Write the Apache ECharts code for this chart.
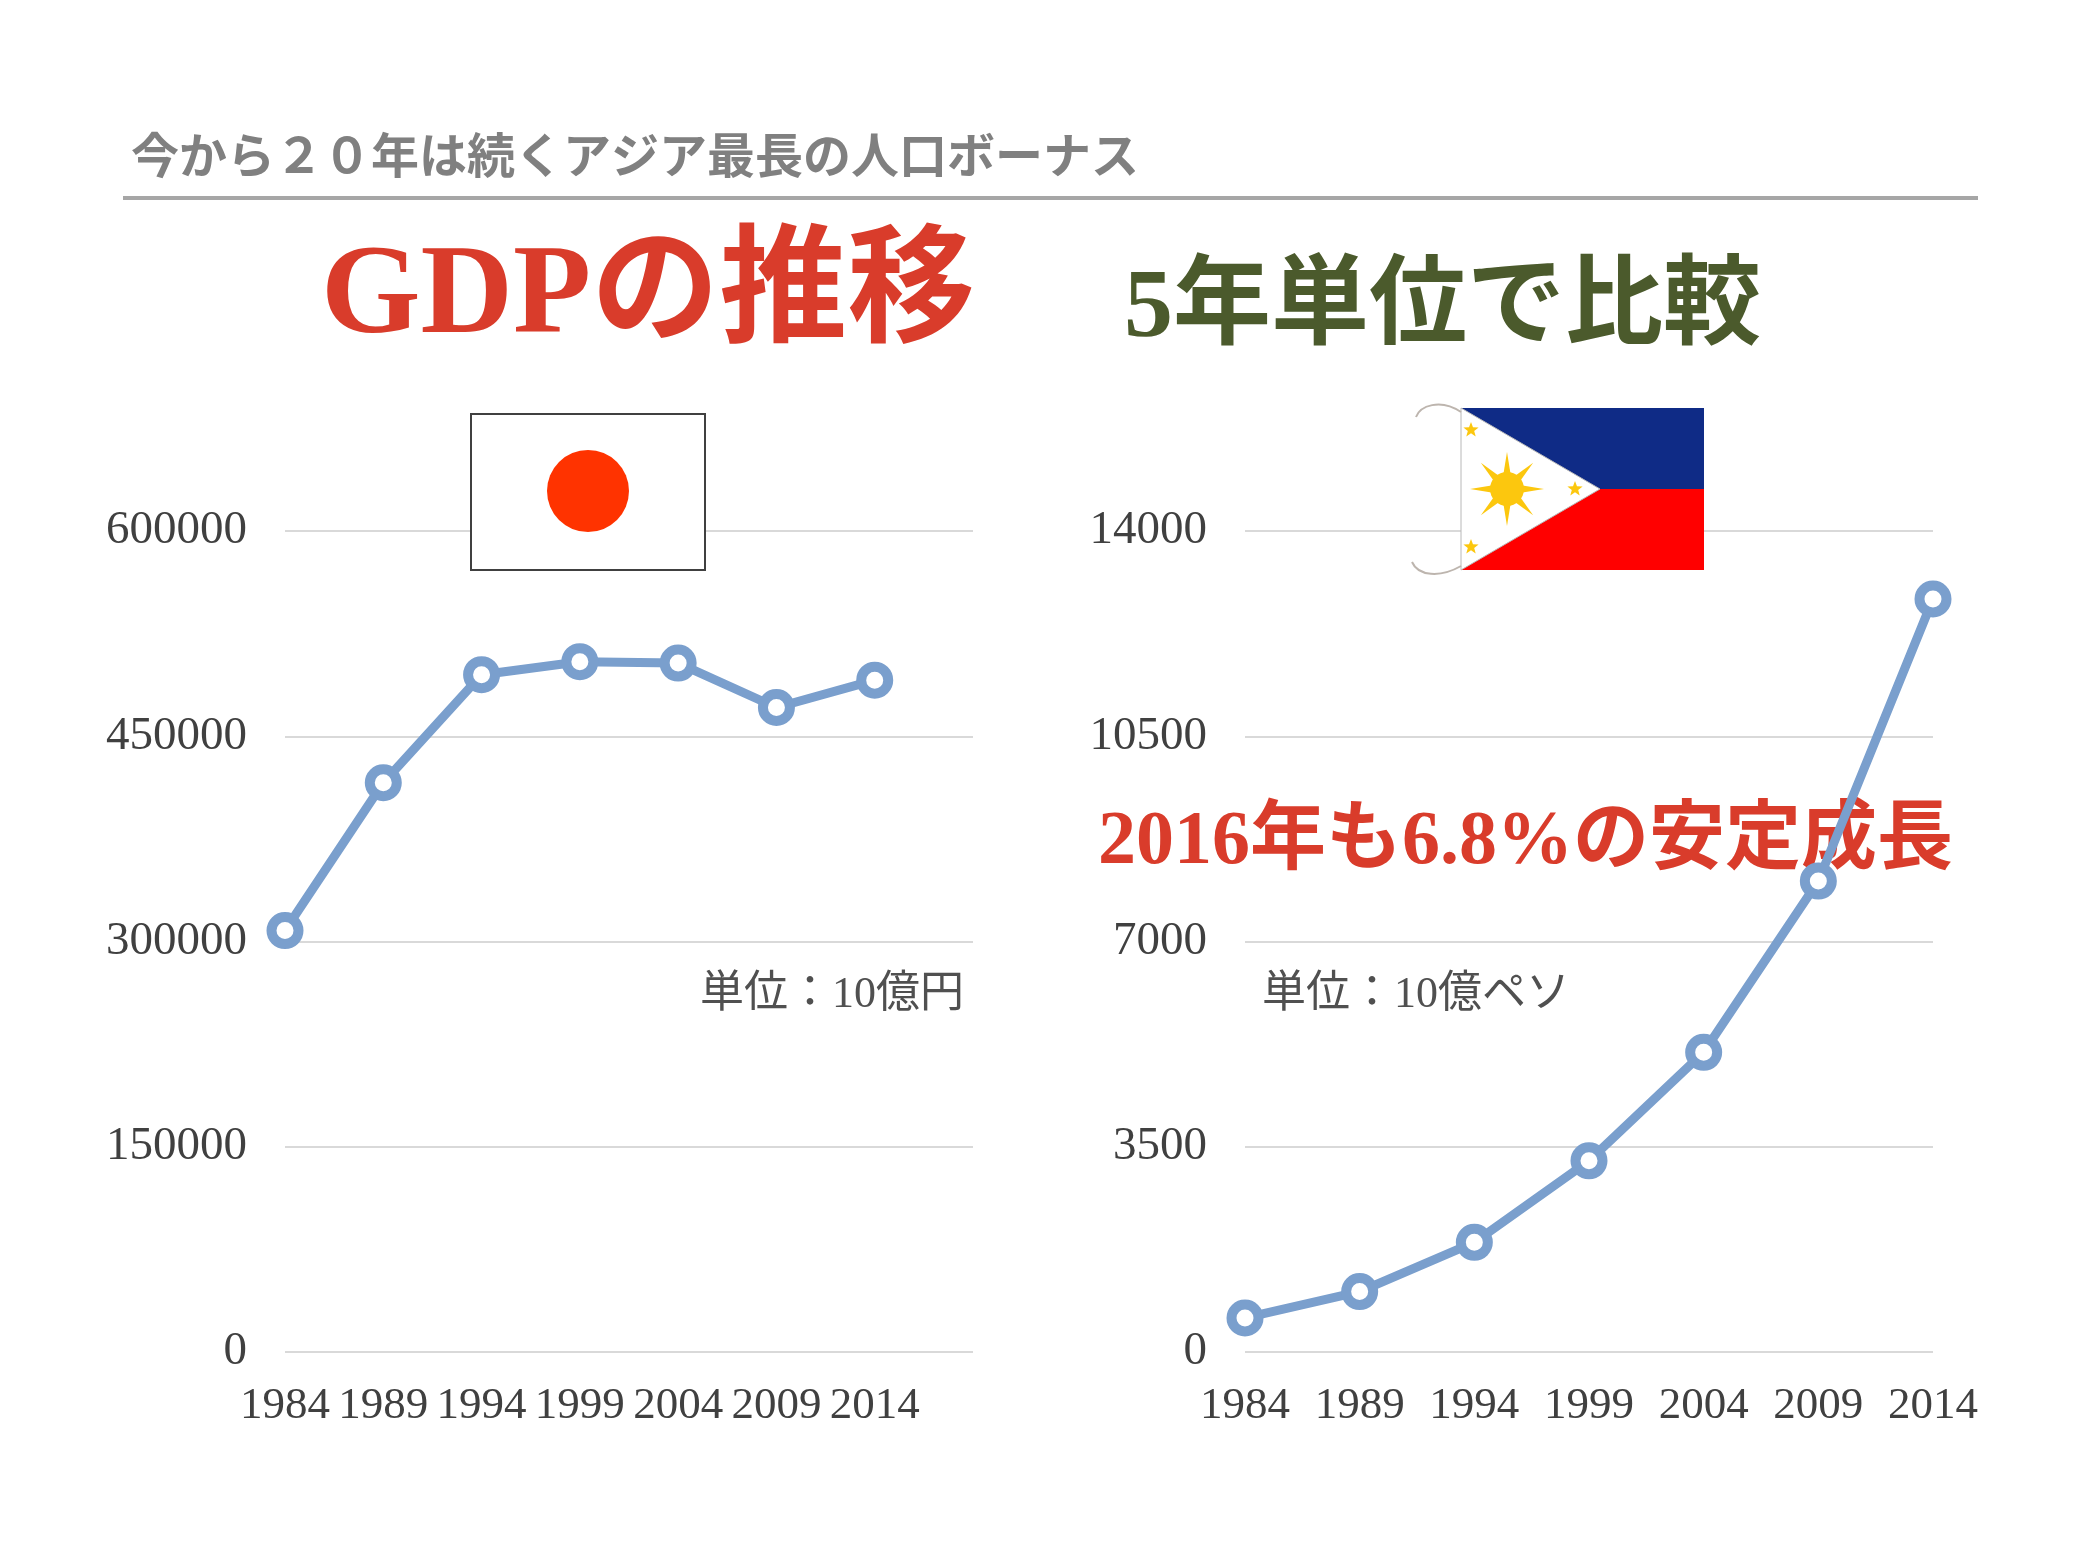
<!DOCTYPE html>
<html>
<head>
<meta charset="utf-8">
<script src="https://cdn.jsdelivr.net/npm/echarts@6/dist/echarts.min.js"></script>
<style>
  html, body {margin: 0; padding: 0; background: #fff;}
  #chart {width: 2088px; height: 1543px;}
</style>
</head>
<body>
<div id="chart"></div>
<script>
// data
const years = [1984, 1989, 1994, 1999, 2004, 2009, 2014];
const japanGdp = [308000, 416000, 495000, 504500, 503500, 471000, 491000];   // 10億円
const philGdp = [580, 1030, 1870, 3260, 5110, 8030, 12840];                  // 10億ペソ
const japanTicks = [0, 150000, 300000, 450000, 600000];
const philTicks = [0, 3500, 7000, 10500, 14000];

const blue = '#7a9fcd';
const serif = '"Liberation Serif", "Noto Sans CJK JP", serif';
const gothic = '"Noto Sans CJK JP", sans-serif';

function pairs(vals) {
    return years.map((y, i) => [y, vals[i]]);
}

function star(cx, cy, r) {
    const pts = [];
    for (let i = 0; i < 10; i++) {
        const rr = i % 2 === 0 ? r : r * 0.42;
        const a = -Math.PI / 2 + i * Math.PI / 5;
        pts.push([cx + rr * Math.cos(a), cy + rr * Math.sin(a)]);
    }
    return pts;
}

function sunRays(cx, cy) {
    const out = [];
    for (let i = 0; i < 8; i++) {
        const a = i * Math.PI / 4;
        const w = 0.22;
        out.push({
            type: 'polygon',
            shape: {points: [
                [cx + 16 * Math.cos(a - w), cy + 16 * Math.sin(a - w)],
                [cx + 37 * Math.cos(a), cy + 37 * Math.sin(a)],
                [cx + 16 * Math.cos(a + w), cy + 16 * Math.sin(a + w)]
            ]},
            style: {fill: '#fcc70e'},
            z: 20
        });
    }
    return out;
}

function yAxis(idx, ticks) {
    return {
        type: 'value',
        gridIndex: idx,
        min: ticks[0],
        max: ticks[ticks.length - 1],
        interval: ticks[1] - ticks[0],
        axisLine: {show: false},
        axisTick: {show: false},
        axisLabel: {fontSize: 47, color: '#404040', fontFamily: serif, margin: 38, formatter: v => String(v)},
        splitLine: {lineStyle: {color: '#d9d9d9', width: 2}}
    };
}

function xAxis(idx, max) {
    return {
        type: 'value',
        gridIndex: idx,
        min: years[0],
        max: max,
        interval: years[1] - years[0],
        axisLine: {show: false},
        axisTick: {show: false},
        splitLine: {show: false},
        axisLabel: {
            fontSize: 45, color: '#404040', fontFamily: serif, margin: 32,
            formatter: v => (v > years[years.length - 1] ? '' : String(v))
        }
    };
}

function lineSeries(idx, vals) {
    return {
        type: 'line',
        xAxisIndex: idx,
        yAxisIndex: idx,
        data: pairs(vals),
        symbol: 'circle',
        symbolSize: 27,
        showAllSymbol: true,
        lineStyle: {color: blue, width: 9},
        itemStyle: {color: '#fff', borderColor: blue, borderWidth: 10},
        z: 10,
        animation: false
    };
}

const chart = echarts.init(document.getElementById('chart'));
chart.setOption({
    backgroundColor: '#fff',
    animation: false,
    grid: [
        {left: 285, top: 531, width: 688, height: 821},
        {left: 1245, top: 531, width: 688, height: 821}
    ],
    xAxis: [xAxis(0, 2019), xAxis(1, years[years.length - 1])],
    yAxis: [yAxis(0, japanTicks), yAxis(1, philTicks)],
    series: [lineSeries(0, japanGdp), lineSeries(1, philGdp)],
    graphic: {
        elements: [
            {
                type: 'text', x: 131, y: 155, z: 5,
                style: {text: '今から２０年は続くアジア最長の人口ボーナス', font: 'bold 48px ' + gothic, fill: '#808080', textVerticalAlign: 'middle'}
            },
            {
                type: 'rect', shape: {x: 123, y: 196, width: 1855, height: 4}, z: 5,
                style: {fill: '#a6a6a6'}
            },
            {
                type: 'text', x: 321, y: 299, z: 5,
                style: {text: 'GDPの推移', font: 'bold 128px ' + serif, fill: '#d93c2b', textVerticalAlign: 'middle'}
            },
            {
                type: 'text', x: 1124, y: 311, z: 5,
                style: {text: '5年単位で比較', font: 'bold 98px ' + serif, fill: '#4b5a2c', textVerticalAlign: 'middle'}
            },
            {
                type: 'text', x: 1098, y: 843, z: 1,
                style: {text: '2016年も6.8%の安定成長', font: 'bold 76px ' + serif, fill: '#d93c2b', textVerticalAlign: 'middle'}
            },
            {
                type: 'text', x: 964, y: 995, z: 5,
                style: {text: '単位：10億円', font: '44px ' + serif, fill: '#505050', textAlign: 'right', textVerticalAlign: 'middle'}
            },
            {
                type: 'text', x: 1262, y: 995, z: 5,
                style: {text: '単位：10億ペソ', font: '44px ' + serif, fill: '#505050', textVerticalAlign: 'middle'}
            },
            // 日本国旗
            {
                type: 'rect', shape: {x: 471, y: 414, width: 234, height: 156}, z: 20,
                style: {fill: '#fff', stroke: '#404040', lineWidth: 2}
            },
            {
                type: 'circle', shape: {cx: 588, cy: 491, r: 41}, z: 21,
                style: {fill: '#ff3300'}
            },
            // フィリピン国旗
            {
                type: 'rect', shape: {x: 1461, y: 408, width: 243, height: 81}, z: 20,
                style: {fill: '#0f2b86'}
            },
            {
                type: 'rect', shape: {x: 1461, y: 489, width: 243, height: 81}, z: 20,
                style: {fill: '#ff0000'}
            },
            {
                type: 'polygon', shape: {points: [[1461, 408], [1600, 489], [1461, 570]]}, z: 20,
                style: {fill: '#fff', stroke: '#b8b8b8', lineWidth: 1}
            },
            {
                type: 'circle', shape: {cx: 1507, cy: 489, r: 17}, z: 21,
                style: {fill: '#fcc70e'}
            },
            ...sunRays(1507, 489),
            {type: 'polygon', shape: {points: star(1471, 430, 8)}, z: 21, style: {fill: '#fcc70e'}},
            {type: 'polygon', shape: {points: star(1575, 489, 8)}, z: 21, style: {fill: '#fcc70e'}},
            {type: 'polygon', shape: {points: star(1471, 547, 8)}, z: 21, style: {fill: '#fcc70e'}},
            {
                type: 'bezierCurve', z: 21,
                shape: {x1: 1461, y1: 412, x2: 1416, y2: 417, cpx1: 1440, cpy1: 398, cpx2: 1420, cpy2: 406},
                style: {stroke: '#bdb5ae', lineWidth: 2, fill: 'none'}
            },
            {
                type: 'bezierCurve', z: 21,
                shape: {x1: 1461, y1: 566, x2: 1412, y2: 562, cpx1: 1440, cpy1: 578, cpx2: 1418, cpy2: 576},
                style: {stroke: '#bdb5ae', lineWidth: 2, fill: 'none'}
            }
        ]
    }
});
</script>
</body>
</html>
